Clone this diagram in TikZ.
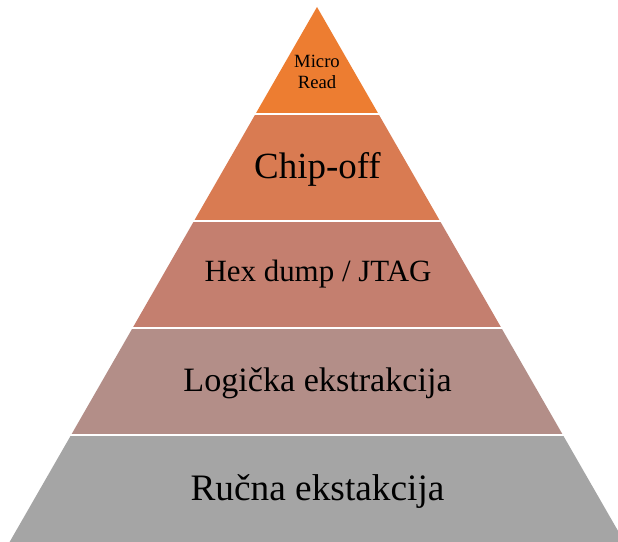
\documentclass[tikz,border=0pt]{standalone}
\usepackage{fontspec}
\setmainfont{Liberation Serif}
\definecolor{cA}{HTML}{ED7D31}
\definecolor{cB}{HTML}{D97B52}
\definecolor{cC}{HTML}{C47F6F}
\definecolor{cD}{HTML}{B38E88}
\definecolor{cE}{HTML}{A5A5A5}
\tikzset{
  band/.style={draw=none},
  sep/.style={draw=white, line width=1.5pt},
  lbl/.style={anchor=base, inner sep=0pt, text=black, align=center}
}
\begin{document}
\begin{tikzpicture}[x=0.75pt, y=-0.75pt]
\useasboundingbox (0,0) rectangle (618,542);
\fill[white] (0,0) rectangle (618,542);
\clip (0,0) rectangle (618,542);
% bands (center 317, half-width = 0.5746*(y-7))
\fill[cA] (317,7) -- (378.5,114) -- (255.5,114) -- cycle;
\fill[cB] (255.5,114) -- (378.5,114) -- (440,221) -- (194,221) -- cycle;
\fill[cC] (194,221) -- (440,221) -- (501.4,328) -- (132.6,328) -- cycle;
\fill[cD] (132.6,328) -- (501.4,328) -- (562.9,435) -- (71.1,435) -- cycle;
\fill[cE] (71.1,435) -- (562.9,435) -- (624.4,542) -- (9.6,542) -- cycle;
% separators
\draw[sep] (250,114) -- (384,114);
\draw[sep] (188,221) -- (446,221);
\draw[sep] (126,328) -- (508,328);
\draw[sep] (64,435) -- (570,435);
% labels
\node[lbl, font=\fontsize{14pt}{15.5pt}\selectfont] (micro) at (317,67.7) {Micro};
\node[lbl, font=\fontsize{14pt}{15.5pt}\selectfont] (read) at (317,88.3) {Read};
\node[lbl, font=\fontsize{27.7pt}{32pt}\selectfont] (chip) at (317.5,178.3) {Chip-off};
\node[lbl, font=\fontsize{23.2pt}{27pt}\selectfont] (hex) at (318,281.7) {Hex dump / JTAG};
\node[lbl, font=\fontsize{25.6pt}{30pt}\selectfont] (log) at (317.5,391.7) {Logička ekstrakcija};
\node[lbl, font=\fontsize{28pt}{32pt}\selectfont] (rucna) at (317.5,500) {Ručna ekstakcija};
\end{tikzpicture}
\end{document}
